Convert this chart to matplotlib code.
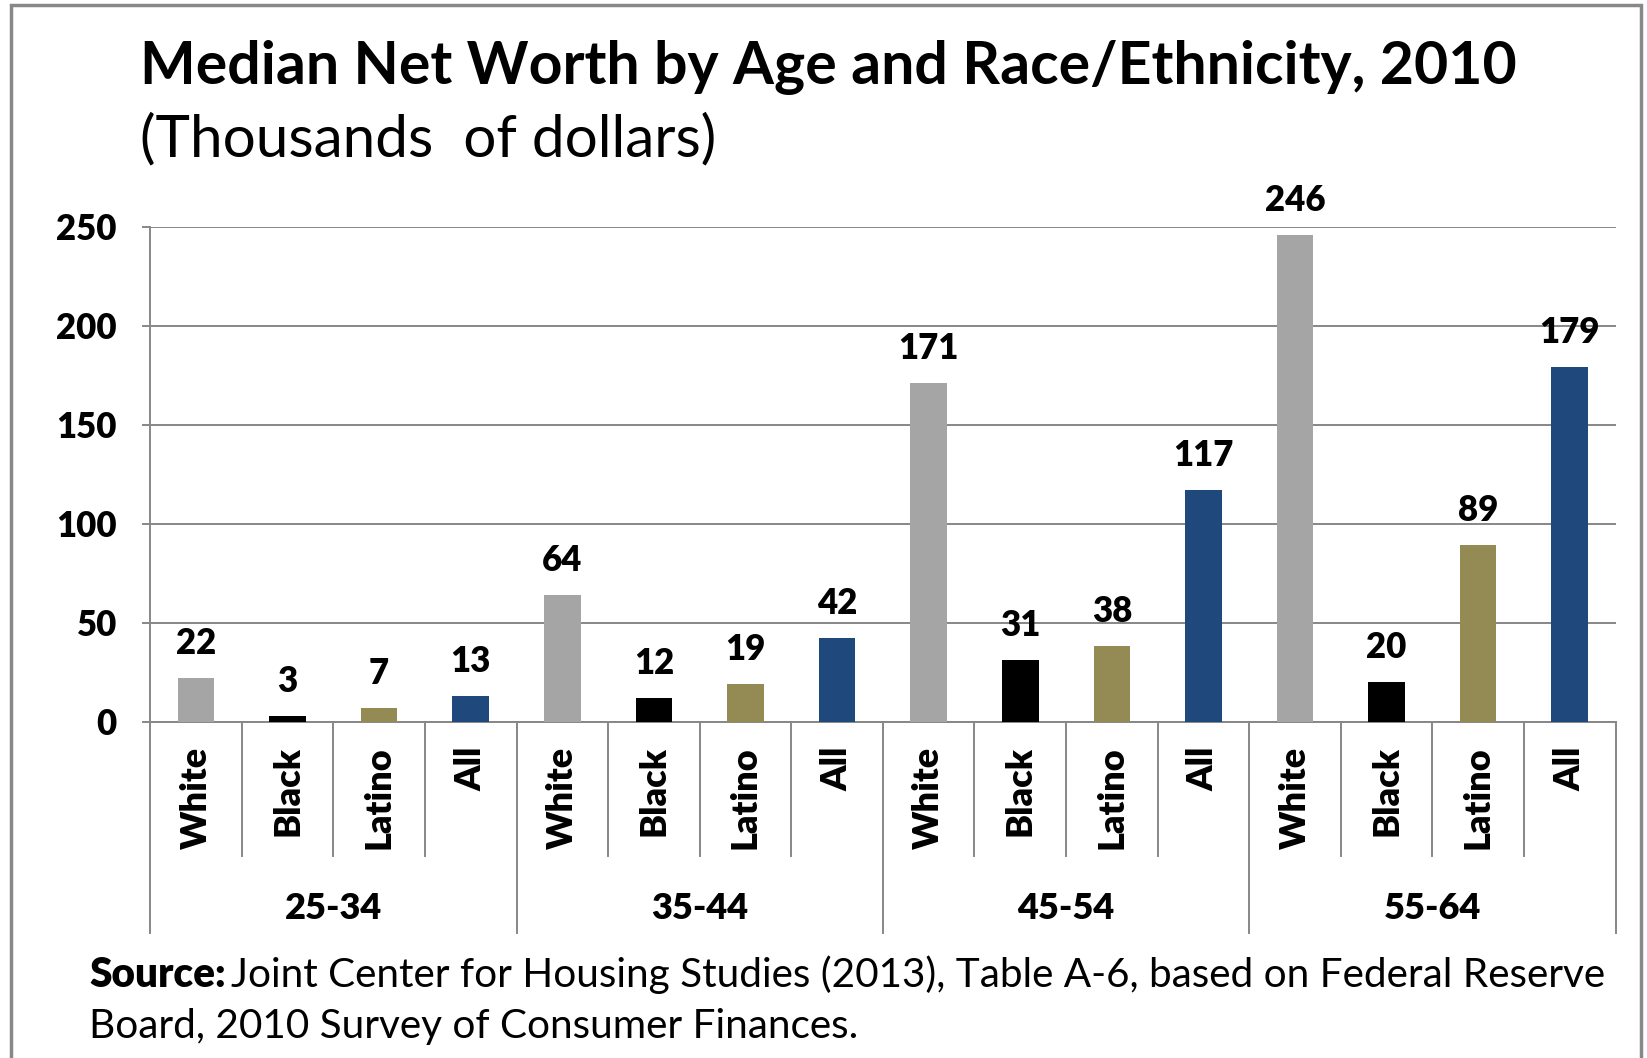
import numpy as np
import matplotlib.pyplot as plt
from matplotlib.patches import Rectangle

plt.rcParams['font.family'] = ['Lato', 'DejaVu Sans']

# median net worth, thousands of dollars
groups = ['25-34', '35-44', '45-54', '55-64']
races = ['White', 'Black', 'Latino', 'All']
values = [22, 3, 7, 13,
          64, 12, 19, 42,
          171, 31, 38, 117,
          246, 20, 89, 179]
race_colors = {'White': '#a5a5a5', 'Black': '#000000', 'Latino': '#948a54', 'All': '#1f497d'}

labels = races * len(groups)
colors = [race_colors[r] for r in labels]
x = np.arange(len(values))

grid_c = '#878787'
heavy = 'heavy'

fig = plt.figure(figsize=(16.47, 10.58), dpi=100)
ax = fig.add_axes([0.0912, 0.318, 0.8897, 0.4675])

ax.bar(x, values, width=0.4, color=colors, zorder=3)
for xi, v in zip(x, values):
    ax.annotate(str(v), (xi, v), xytext=(0, 13), textcoords='offset points',
                ha='center', va='bottom', fontsize=25, fontweight=heavy, zorder=4)

ax.set_xlim(-0.5, len(values) - 0.5)
ax.set_ylim(0, 250)
ax.set_yticks(np.arange(0, 251, 50))
ax.yaxis.grid(True, color=grid_c, lw=1.4, zorder=0)
ax.tick_params(axis='y', length=6, color=grid_c, width=1.4, pad=18, labelsize=25)
for t in ax.get_yticklabels():
    t.set_fontweight(heavy)

ax.set_xticks(x)
ax.set_xticklabels(labels, rotation=90, fontsize=26, fontweight=heavy)
ax.tick_params(axis='x', length=0, pad=18)

for s in ['top', 'right']:
    ax.spines[s].set_visible(False)
for s in ['left', 'bottom']:
    ax.spines[s].set_color(grid_c)
    ax.spines[s].set_linewidth(1.4)

# category dividers under the axis; longer ones split the age groups
trans = ax.get_xaxis_transform()
for i in range(len(values) + 1):
    low = -0.428 if i % 4 == 0 else -0.272
    ax.plot([i - 0.5, i - 0.5], [0, low], color=grid_c, lw=1.4,
            transform=trans, clip_on=False)
for g, name in enumerate(groups):
    ax.text(g * 4 + 1.5, -0.378, name, transform=trans, ha='center', va='center',
            fontsize=26, fontweight=heavy)

fig.text(0.085, 0.9206, 'Median Net Worth by Age and Race/Ethnicity, 2010',
         fontsize=42.5, fontweight='bold', va='baseline')
fig.text(0.085, 0.852, '(Thousands  of dollars)', fontsize=42, va='baseline')

# source note: bold lead-in, then the rest of the line right after it
src_x, src_size = 0.054, 29.2
lead = fig.text(src_x, 0.067, 'Source:', fontsize=src_size, fontweight=heavy, va='baseline')
fig.canvas.draw()
bb = lead.get_window_extent().transformed(fig.transFigure.inverted())
fig.text(bb.x1 + 0.003, 0.067,
         'Joint Center for Housing Studies (2013), Table A-6, based on Federal Reserve',
         fontsize=src_size, va='baseline')
fig.text(src_x, 0.019, 'Board, 2010 Survey of Consumer Finances.',
         fontsize=src_size, va='baseline')

fig.patches.append(Rectangle((0.0064, -0.02), 0.9898, 1.0153, transform=fig.transFigure,
                             fill=False, edgecolor='#888888', lw=2.5))

fig.savefig('out.png', dpi=100)
